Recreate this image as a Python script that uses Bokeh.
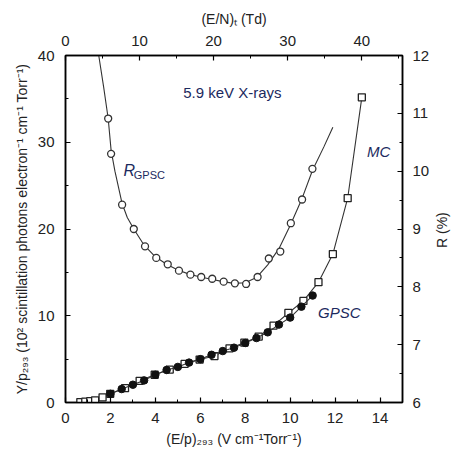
import math
from bokeh.plotting import figure
from bokeh.layouts import row
from bokeh.models import Range1d, LinearAxis, FixedTicker, Label
from bokeh.core.properties import value
from bokeh.embed import file_html
from bokeh.resources import INLINE

# ---- data ----
# R_GPSC (energy resolution, %) open circles, vs (E/p)293
r_x = [1.90, 2.03, 2.52, 3.04, 3.54, 4.04, 4.55, 5.05, 5.56, 6.04, 6.53, 7.04,
       7.54, 8.04, 8.55, 9.05, 9.56, 10.03, 10.53, 10.99]
r_val = [10.91, 10.30, 9.42, 9.00, 8.70, 8.50, 8.39, 8.28, 8.21, 8.17, 8.14, 8.09,
         8.06, 8.05, 8.17, 8.49, 8.61, 9.10, 9.51, 10.04]
# fitted curve through R points
rfit_x = [1.48, 1.7, 1.9, 2.03, 2.2, 2.52, 2.75, 3.04, 3.5, 4.0, 4.5, 5.0, 5.5, 6.0,
          6.5, 7.0, 7.5, 8.0, 8.5, 9.0, 9.5, 10.0, 10.5, 11.0, 11.5, 11.9]
rfit_val = [12.0, 11.45, 10.91, 10.36, 10.0, 9.44, 9.2, 9.0, 8.72, 8.52, 8.39, 8.29,
            8.22, 8.17, 8.13, 8.09, 8.06, 8.07, 8.16, 8.38, 8.66, 9.06, 9.5, 10.02,
            10.42, 10.76]
# MC reduced yield, open squares
mc_x = [0.66, 0.88, 1.10, 1.32, 1.65, 1.99, 2.65, 3.30, 3.97, 4.64, 5.30, 5.97,
        6.63, 7.30, 7.96, 8.60, 9.26, 9.92, 10.59, 11.26, 11.90, 12.56, 13.19]
mc_y = [0.05, 0.10, 0.15, 0.25, 0.60, 1.00, 1.65, 2.50, 3.20, 3.80, 4.45, 4.95,
        5.35, 6.25, 6.90, 7.60, 8.87, 10.32, 11.71, 13.87, 17.11, 23.55, 35.18]
# GPSC measured reduced yield, filled circles
g_x = [2.0, 2.5, 3.0, 3.5, 4.0, 4.5, 5.0, 5.5, 6.0, 6.5, 7.0, 7.5, 8.0, 8.5, 9.0,
       9.5, 10.0, 10.5, 11.0]
g_y = [1.00, 1.55, 2.05, 2.55, 3.20, 3.75, 4.10, 4.60, 5.00, 5.50, 5.93, 6.32,
       6.86, 7.43, 8.09, 8.98, 9.79, 11.05, 12.33]

bottom_ticks = [0, 2, 4, 6, 8, 10, 12, 14]
left_ticks = [0, 10, 20, 30, 40]
right_ticks = [6, 7, 8, 9, 10, 11, 12]
top_ticks = [0, 10, 20, 30, 40]

FONT = "Liberation Sans"
INK = "#222222"
NAVY = "#1c2a5e"

p = figure(width=432, height=454, output_backend="svg", toolbar_location=None,
           x_range=Range1d(0, 15), y_range=Range1d(0, 40),
           min_border_left=65, min_border_right=29, min_border_top=55,
           min_border_bottom=52)
p.extra_y_ranges = {"R": Range1d(6, 12)}
p.extra_x_ranges = {"td": Range1d(0, 45.5)}
p.xgrid.visible = False
p.ygrid.visible = False
p.outline_line_color = "black"
p.outline_line_width = 1.5
p.background_fill_color = "white"
p.border_fill_color = "white"


def style(ax, label, standoff=10, label_standoff=6):
    ax.axis_label = label
    ax.axis_label_text_font = FONT
    ax.axis_label_text_font_size = "14px"
    ax.axis_label_text_font_style = "normal"
    ax.axis_label_text_color = INK
    ax.axis_label_standoff = label_standoff
    ax.major_label_text_font = FONT
    ax.major_label_text_font_size = "15px"
    ax.major_label_text_color = INK
    ax.major_label_standoff = standoff
    ax.axis_line_color = "black"
    ax.axis_line_width = 1.5
    ax.major_tick_in = 5
    ax.major_tick_out = 0
    ax.minor_tick_in = 3
    ax.minor_tick_out = 0
    ax.major_tick_line_color = "black"
    ax.minor_tick_line_color = "black"
    ax.major_tick_line_width = 1.2
    ax.minor_tick_line_width = 1.0


xb = p.xaxis[0]
xb.ticker = FixedTicker(ticks=bottom_ticks, minor_ticks=[1, 3, 5, 7, 9, 11, 13, 15])
style(xb, "(E/p)\u2082\u2089\u2083 (V cm\u207b\u00b9Torr\u207b\u00b9)", 10, 5)

yl = p.yaxis[0]
yl.ticker = FixedTicker(ticks=left_ticks, minor_ticks=[5, 15, 25, 35])
style(yl, "Y/p\u2082\u2089\u2083 (10\u00b2 scintillation photons electron\u207b\u00b9 cm\u207b\u00b9 Torr\u207b\u00b9)", 11, 5)

yr = LinearAxis(y_range_name="R",
                ticker=FixedTicker(ticks=right_ticks,
                                   minor_ticks=[6.5, 7.5, 8.5, 9.5, 10.5, 11.5]))
style(yr, None, 10, 4)
p.add_layout(yr, "right")

xt = LinearAxis(x_range_name="td",
                ticker=FixedTicker(ticks=top_ticks, minor_ticks=[5, 15, 25, 35, 45]))
style(xt, "(E/N)\u209c (Td)", 10, 6)
p.add_layout(xt, "above")

# R_GPSC curve and points
p.line(rfit_x, rfit_val, y_range_name="R", line_color="#333333", line_width=1.1)
p.scatter(r_x, r_val, y_range_name="R", marker="circle", size=7,
          fill_color="white", line_color="#333333", line_width=1.3)

# MC curve and squares
p.line(mc_x, mc_y, line_color="#333333", line_width=1.1)
p.scatter(mc_x, mc_y, marker="square", size=7, fill_color="white",
          line_color="#222222", line_width=1.3)

# GPSC curve and filled circles
p.line(g_x, g_y, line_color="#333333", line_width=1.1)
p.scatter(g_x, g_y, marker="circle", size=7.5, fill_color="#111111",
          line_color="#111111")

# annotations
p.add_layout(Label(x=5.24, y=35.7, text="5.9 keV X-rays", text_font=FONT,
                   text_font_size="15px", text_color=NAVY, text_baseline="middle"))
p.add_layout(Label(x=2.58, y=26.8, text="R", text_font=FONT, text_font_size="16px",
                   text_font_style="italic", text_color=NAVY, text_baseline="middle"))
p.add_layout(Label(x=3.04, y=26.2, text="GPSC", text_font=FONT, text_font_size="11px",
                   text_color=NAVY, text_baseline="middle"))
p.add_layout(Label(x=13.42, y=28.9, text="MC", text_font=FONT, text_font_size="15px",
                   text_font_style="italic", text_color=NAVY, text_baseline="middle"))
p.add_layout(Label(x=11.24, y=10.4, text="GPSC", text_font=FONT, text_font_size="15px",
                   text_font_style="italic", text_color=NAVY, text_baseline="middle"))

# narrow strip carrying the right-axis title, reading bottom-to-top
q = figure(width=19, height=454, output_backend="svg", toolbar_location=None,
           x_range=Range1d(0, 1), y_range=Range1d(0, 454),
           x_axis_location=None, y_axis_location=None, min_border=0)
q.xgrid.visible = False
q.ygrid.visible = False
q.outline_line_color = None
q.border_fill_color = "white"
q.text(x=[0.5], y=[225.5], text=["R (%)"], angle=math.pi / 2, text_align="center",
       text_baseline="middle", text_font=value(FONT), text_font_size="14px",
       text_color=INK)

layout = row(p, q, spacing=0)
open("out.html", "w").write(file_html(layout, INLINE))
